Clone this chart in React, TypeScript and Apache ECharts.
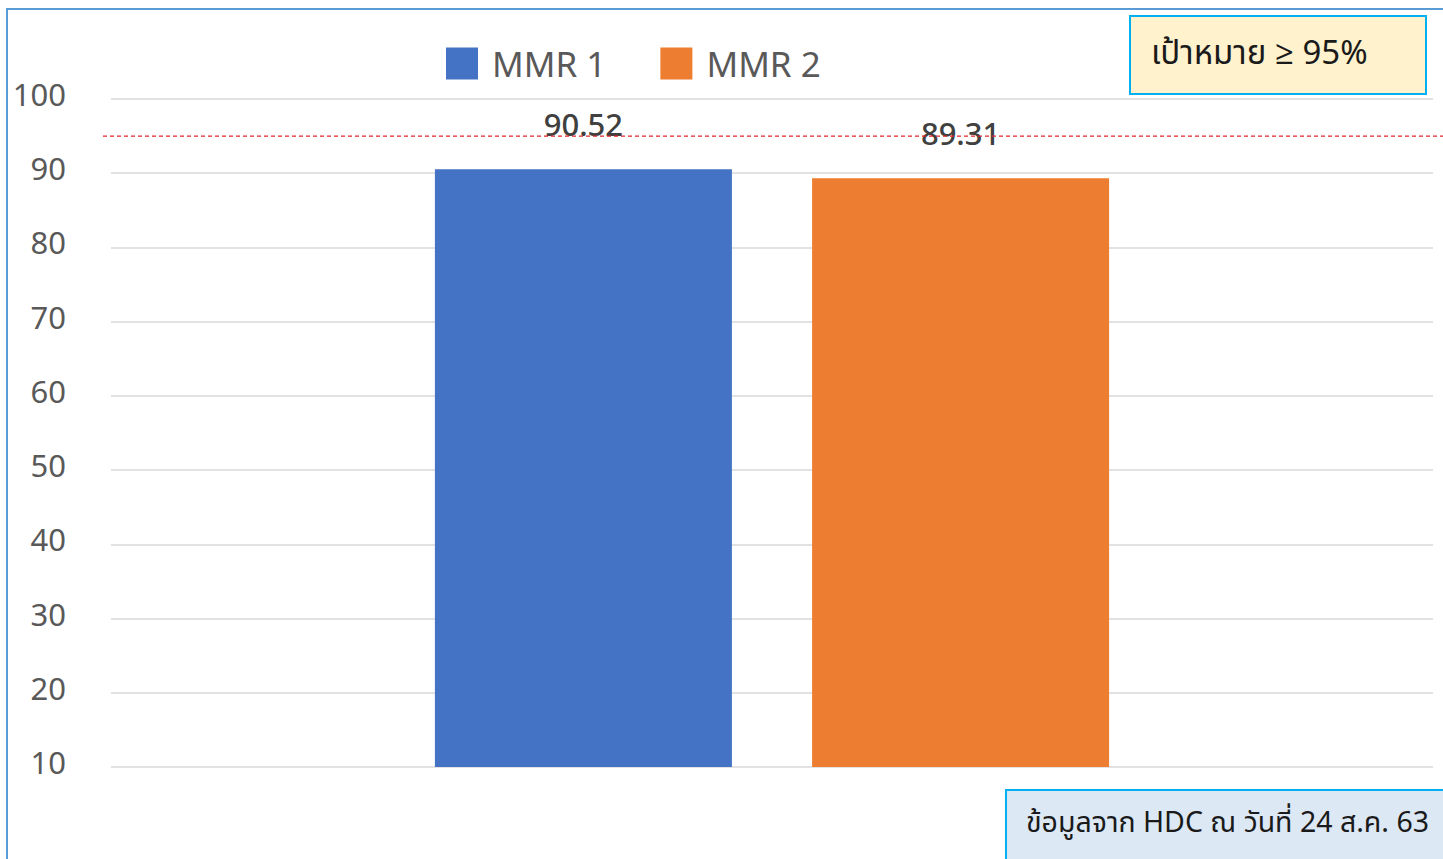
import React, { useEffect, useRef } from "react";
import * as echarts from "echarts";

const categories = [""];
const seriesNames = ["MMR 1", "MMR 2"];
const mmr1 = [90.52];
const mmr2 = [89.31];
const targetValue = 95;
const yTicks = { min: 10, max: 100, interval: 10 };
const targetText = "เป้าหมาย ≥ 95%";
const sourceText = "ข้อมูลจาก HDC ณ วันที่ 24 ส.ค. 63";

const FONT = '"Noto Sans", "Noto Sans Thai", "Open Sans", sans-serif';

export default function App() {
  const ref = useRef<HTMLDivElement>(null);
  useEffect(() => {
    const el = ref.current!;
    const chart = echarts.init(el, undefined, { renderer: "svg" });
    const labelCfg = {
      show: true,
      position: "top",
      distance: 30,
      fontSize: 31,
      fontWeight: 500,
      fontFamily: FONT,
      color: "#404040",
      formatter: (p: any) => p.value.toFixed(2),
    };
    chart.setOption({
      animation: false,
      backgroundColor: "#ffffff",
      grid: { left: 111, right: 10, top: 99, bottom: 92, containLabel: false },
      legend: {
        left: 441,
        top: 41,
        itemWidth: 32,
        itemHeight: 32,
        itemGap: 54,
        icon: "rect",
        textStyle: { fontSize: 35, color: "#595959", fontFamily: FONT, padding: [0, 0, 0, 9] },
        data: seriesNames,
      },
      xAxis: {
        type: "category",
        data: categories,
        axisLine: { show: false },
        axisTick: { show: false },
        axisLabel: { show: false },
      },
      yAxis: {
        type: "value",
        min: yTicks.min,
        max: yTicks.max,
        interval: yTicks.interval,
        axisLine: { show: false },
        axisTick: { show: false },
        axisLabel: {
          fontSize: 31,
          color: "#595959",
          fontFamily: FONT,
          margin: 45,
          verticalAlign: "bottom",
          lineHeight: 10,
        },
        splitLine: { lineStyle: { color: "#d9d9d9", width: 1.5 } },
      },
      series: [
        {
          name: seriesNames[0],
          type: "bar",
          data: mmr1,
          barWidth: 297,
          barGap: "27%",
          itemStyle: { color: "#4472c4" },
          label: labelCfg,
        },
        {
          name: seriesNames[1],
          type: "bar",
          data: mmr2,
          barWidth: 297,
          barGap: "27%",
          itemStyle: { color: "#ed7d31" },
          label: labelCfg,
        },
      ],
    });
    const yT = chart.convertToPixel({ yAxisIndex: 0 }, targetValue) as number;
    chart.setOption({
      graphic: [
        {
          type: "rect",
          shape: { x: 7, y: 9, width: 1460, height: 870 },
          style: { fill: "none", stroke: "#5b9bd5", lineWidth: 2 },
          silent: true,
        },
        {
          type: "line",
          shape: { x1: 103, y1: yT, x2: 1443, y2: yT },
          style: { stroke: "#e0262b", lineWidth: 1.3, lineDash: [4, 3] },
          z: 10,
          silent: true,
        },
        {
          type: "group",
          left: 1129,
          top: 15,
          children: [
            {
              type: "rect",
              shape: { x: 0, y: 0, width: 296, height: 78 },
              style: { fill: "#fff2cc", stroke: "#00b0f0", lineWidth: 2 },
            },
            {
              type: "text",
              x: 21,
              y: 35,
              style: {
                text: targetText,
                fontSize: 33,
                fontFamily: FONT,
                fill: "#1a1a1a",
                verticalAlign: "middle",
              },
            },
          ],
        },
        {
          type: "group",
          left: 1005,
          top: 789,
          children: [
            {
              type: "rect",
              shape: { x: 0, y: 0, width: 460, height: 90 },
              style: { fill: "#dde8f5", stroke: "#00b0f0", lineWidth: 2 },
            },
            {
              type: "text",
              x: 20,
              y: 31,
              style: {
                text: sourceText,
                fontSize: 28.5,
                fontFamily: FONT,
                fill: "#1a1a1a",
                verticalAlign: "middle",
              },
            },
          ],
        },
      ],
    });
    return () => chart.dispose();
  }, []);
  return (
    <div
      ref={ref}
      style={{ position: "fixed", left: 0, top: 0, width: 1443, height: 859 }}
    />
  );
}
